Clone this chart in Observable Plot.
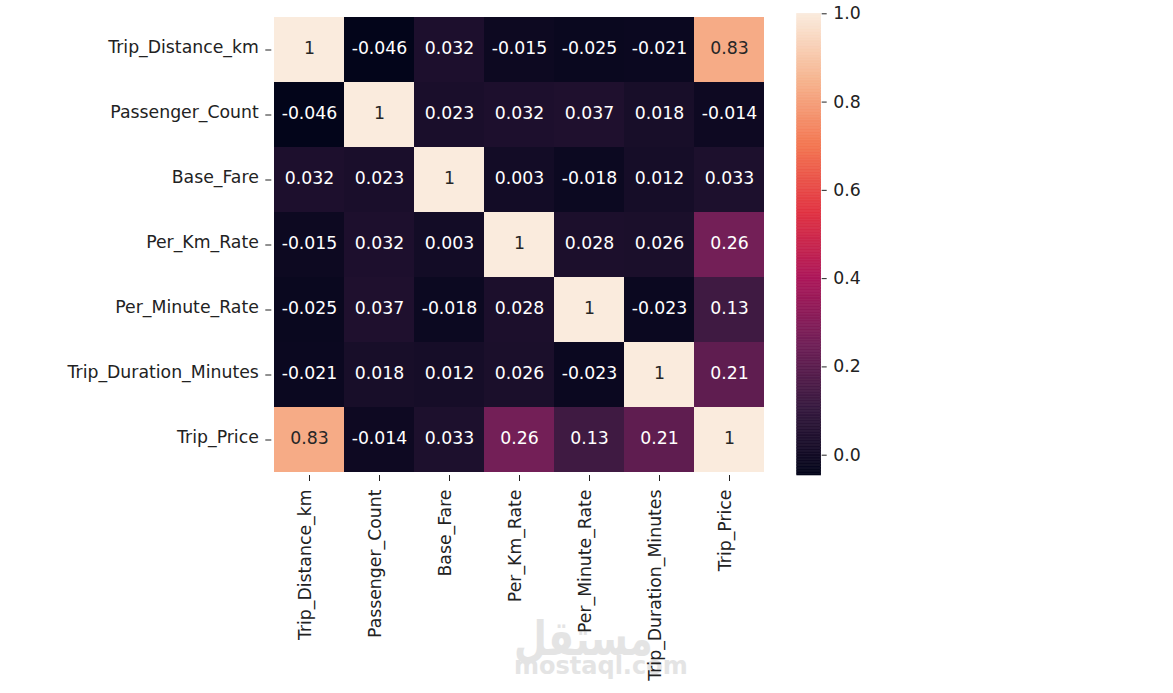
<!DOCTYPE html>
<html>
<head>
<meta charset="utf-8">
<script src="https://cdn.jsdelivr.net/npm/d3@7"></script>
<script src="https://cdn.jsdelivr.net/npm/@observablehq/plot@0.6"></script>
<style>
  html, body { margin: 0; padding: 0; background: #fff; }
  #chart { position: relative; width: 1173px; height: 693px; overflow: hidden; }
  #chart svg { position: absolute; left: 0; top: 0; }
  .wm { position: absolute; font-family: "DejaVu Sans", sans-serif; font-weight: bold; color: #e4e4e4; white-space: nowrap; line-height: 1; transform-origin: 0 0; }
</style>
</head>
<body>
<div id="chart">
  <div class="wm" style="left:514px; top:614px; font-size:48px; transform:scaleX(0.79);">مستقل</div>
  <div class="wm" style="left:514px; top:654px; font-size:24px;">mostaql.com</div>
</div>
<script>
// Variables of the correlation matrix (row order = column order)
const variables = [
  "Trip_Distance_km",
  "Passenger_Count",
  "Base_Fare",
  "Per_Km_Rate",
  "Per_Minute_Rate",
  "Trip_Duration_Minutes",
  "Trip_Price"
];

// Pearson correlations, one array per row
const rowTripDistance   = [1, -0.046, 0.032, -0.015, -0.025, -0.021, 0.83];
const rowPassengerCount = [-0.046, 1, 0.023, 0.032, 0.037, 0.018, -0.014];
const rowBaseFare       = [0.032, 0.023, 1, 0.003, -0.018, 0.012, 0.033];
const rowPerKmRate      = [-0.015, 0.032, 0.003, 1, 0.028, 0.026, 0.26];
const rowPerMinuteRate  = [-0.025, 0.037, -0.018, 0.028, 1, -0.023, 0.13];
const rowTripDuration   = [-0.021, 0.018, 0.012, 0.026, -0.023, 1, 0.21];
const rowTripPrice      = [0.83, -0.014, 0.033, 0.26, 0.13, 0.21, 1];

// Colorbar tick values
const colorbarTicks = [0, 0.2, 0.4, 0.6, 0.8, 1.0];

const corr = [rowTripDistance, rowPassengerCount, rowBaseFare, rowPerKmRate,
              rowPerMinuteRate, rowTripDuration, rowTripPrice];

const cells = variables.flatMap((row, i) =>
  variables.map((col, j) => ({row, col, value: corr[i][j]}))
);

const vmin = d3.min(cells, d => d.value);
const vmax = d3.max(cells, d => d.value);

// seaborn "rocket" colormap, approximated piecewise
const rocket = d3.piecewise(d3.interpolateRgb, [
  "#03051a", "#35193e", "#701f57", "#ad1759",
  "#e13342", "#f37651", "#f6b48f", "#faebdd"
]);

const W = 1173, H = 693;
const frame = {left: 271.3, right: 767.3, top: 13.3, bottom: 475};
const fontSize = 17.3;
const baseStyle = {
  background: "transparent",
  fontFamily: "'DejaVu Sans', sans-serif",
  fontSize: fontSize + "px",
  color: "#222"
};
const colorOpts = {type: "linear", domain: [vmin, vmax], interpolate: rocket};
const blank = () => "";

// Heatmap
const heat = Plot.plot({
  width: W,
  height: H,
  marginLeft: frame.left,
  marginRight: W - frame.right,
  marginTop: frame.top,
  marginBottom: H - frame.bottom,
  style: baseStyle,
  x: {domain: variables, padding: 0, label: null},
  y: {domain: variables, padding: 0, label: null},
  color: colorOpts,
  marks: [
    Plot.cell(cells, {x: "col", y: "row", fill: "value", inset: 0}),
    Plot.text(cells.filter(d => d.value <= 0.7), {
      x: "col", y: "row", text: d => String(d.value), fill: "white", fontSize, dy: -2
    }),
    Plot.text(cells.filter(d => d.value > 0.7), {
      x: "col", y: "row", text: d => String(d.value), fill: "#262626", fontSize, dy: -2
    }),
    // tick lines
    Plot.axisY({tickSize: 6, tickFormat: blank, label: null}),
    Plot.axisX({tickSize: 6, tickFormat: blank, label: null}),
    // tick labels
    Plot.axisY({tickSize: 0, tickPadding: 13, dy: -2.5, label: null}),
    Plot.axisX({tickSize: 0, tickPadding: 14, tickRotate: -90, dx: -4, label: null})
  ]
});

// Vertical colorbar
const nSteps = 300;
const steps = d3.range(nSteps).map(i => {
  const lo = vmin + (vmax - vmin) * i / nSteps;
  const hi = vmin + (vmax - vmin) * (i + 1) / nSteps;
  return {lo, hi, mid: (lo + hi) / 2};
});

const bar = Plot.plot({
  width: W,
  height: H,
  marginLeft: 796.7,
  marginRight: W - 820.7,
  marginTop: frame.top,
  marginBottom: H - frame.bottom,
  style: baseStyle,
  x: {domain: [0, 1], axis: null},
  y: {domain: [vmin, vmax], label: null},
  color: colorOpts,
  marks: [
    Plot.rect(steps, {x1: 0, x2: 1, y1: "lo", y2: "hi", fill: "mid", stroke: "mid", strokeWidth: 0.6}),
    Plot.axisY({anchor: "right", ticks: colorbarTicks, tickFormat: blank, tickSize: 5, label: null}),
    Plot.axisY({anchor: "right", ticks: colorbarTicks, tickFormat: ".1f", tickSize: 0, tickPadding: 12, dy: 0, label: null})
  ]
});

const chart = document.getElementById("chart");
chart.appendChild(heat);
chart.appendChild(bar);
</script>
</body>
</html>
